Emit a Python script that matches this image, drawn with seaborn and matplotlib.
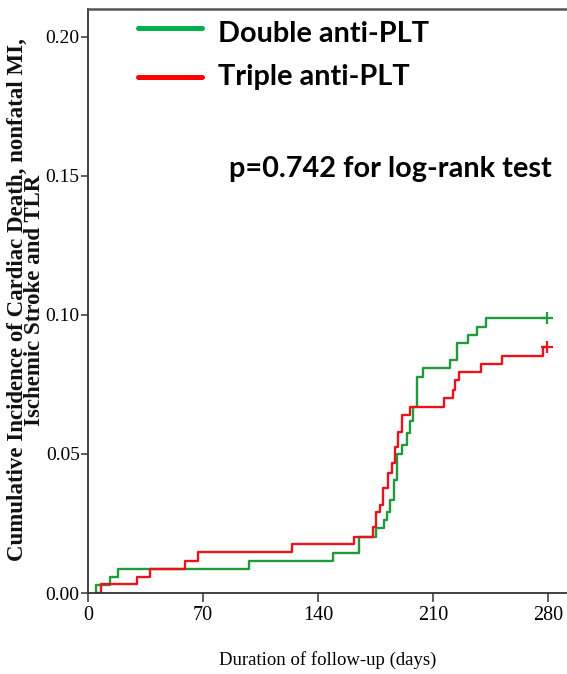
import matplotlib
matplotlib.use("Agg")
import matplotlib.pyplot as plt
from matplotlib.lines import Line2D
import numpy as np
import pandas as pd
import seaborn as sns

# Kaplan-Meier style cumulative incidence, read as (day, cumulative incidence) step points
double_days = [4.6, 4.6, 13.4, 18.0, 98.0, 149.0, 165.0, 175.0, 180.0, 182.0, 184.0,
               186.0, 188.0, 191.0, 194.0, 196.0, 198.0, 200.0, 203.7, 220.0, 224.8,
               231.5, 236.6, 242.2, 279.2]
double_vals = [0.0, 0.0030, 0.0059, 0.0086, 0.0115, 0.0143, 0.0203, 0.0233, 0.0262, 0.0290,
               0.0335, 0.0405, 0.0500, 0.0532, 0.0575, 0.0620, 0.0670, 0.0778, 0.0808,
               0.0838, 0.0898, 0.0928, 0.0958, 0.0988, 0.0988]

triple_days = [4.6, 7.9, 30.0, 37.7, 59.0, 67.1, 124.0, 162.0, 173.7, 175.3, 177.7, 179.7,
               182.8, 184.8, 186.9, 188.9, 190.9, 196.0, 216.7, 222.0, 223.4, 226.0, 239.0,
               251.8, 277.0, 279.5]
triple_vals = [0.0, 0.0031, 0.0059, 0.0086, 0.0116, 0.0146, 0.0175, 0.0203, 0.0239, 0.0293,
               0.0317, 0.0377, 0.0431, 0.0467, 0.0526, 0.0580, 0.0640, 0.0670, 0.0700,
               0.0730, 0.0766, 0.0793, 0.0823, 0.0853, 0.0883, 0.0883]

group_names = ["Double anti-PLT", "Triple anti-PLT"]
x_ticks = [0, 70, 140, 210, 280]
y_ticks = [0.00, 0.05, 0.10, 0.15, 0.20]

curve_colors = {"Double anti-PLT": "#1f9a3c", "Triple anti-PLT": "#e8141c"}
legend_colors = {"Double anti-PLT": "#00b050", "Triple anti-PLT": "#ff0000"}

df = pd.concat([
    pd.DataFrame({"day": double_days, "inc": double_vals, "group": group_names[0]}),
    pd.DataFrame({"day": triple_days, "inc": triple_vals, "group": group_names[1]}),
], ignore_index=True)

sns.set_style("white")
W, H = 567, 674
fig = plt.figure(figsize=(W / 100, H / 100), dpi=100)
ax = fig.add_axes([88 / W, 81 / H, (W - 88) / W, 584 / H])

sns.lineplot(data=df, x="day", y="inc", hue="group", palette=curve_colors,
             estimator=None, sort=False, drawstyle="steps-post", linewidth=1.7,
             legend=False, ax=ax)

# censoring marks at the end of follow-up
for name, days, vals in [(group_names[0], double_days, double_vals),
                         (group_names[1], triple_days, triple_vals)]:
    ax.plot(days[-1], vals[-1], marker="+", markersize=9, markeredgewidth=1.6,
            color=curve_colors[name], linestyle="none")

ax.set_xlim(0, 291.5)
ax.set_ylim(0, 0.21)
ax.set_xticks(x_ticks)
ax.set_xticklabels([str(t) for t in x_ticks])
ax.set_yticks(y_ticks)
ax.set_yticklabels([f"{t:.2f}" for t in y_ticks])
ax.set_xlabel("")
ax.set_ylabel("")

for side in ["left", "bottom", "top"]:
    ax.spines[side].set_color("#333333")
    ax.spines[side].set_linewidth(1.3)
ax.spines["right"].set_visible(False)
ax.spines["top"].set_color("#555555")
ax.spines["top"].set_linewidth(1.8)

ax.tick_params(axis="x", direction="out", length=6.5, width=1.1, color="#333333",
               pad=3, labelsize=14.5, labelcolor="black", bottom=True)
ax.tick_params(axis="y", direction="out", length=5, width=1.1, color="#333333",
               pad=1, labelsize=14, labelcolor="black", left=True)
for lab in ax.get_xticklabels() + ax.get_yticklabels():
    lab.set_family("Liberation Serif")

# axis titles
fig.text(328 / W, 1 - 660 / H, "Duration of follow-up (days)", family="Liberation Serif",
         fontsize=13.5, color="black", ha="center", va="center")
fig.text(26 / W, 1 - 300 / H,
         "Cumulative Incidence of Cardiac Death, nonfatal MI,\nIschemic Stroke and TLR",
         family="Liberation Serif", fontweight="bold", fontsize=16.5, color="#111111",
         rotation=90, ha="center", va="center", linespacing=0.8)

# legend drawn in figure pixel space
for name, y_line, y_text in [(group_names[0], 27.7, 41.7), (group_names[1], 76.7, 85.0)]:
    fig.add_artist(Line2D([138 / W, 202 / W], [1 - y_line / H, 1 - y_line / H],
                          color=legend_colors[name], linewidth=3.6,
                          transform=fig.transFigure))
    fig.text(218 / W, 1 - y_text / H, name, family="Lato", fontweight="bold",
             fontsize=20.8, color="black", ha="left", va="baseline")

fig.text(229 / W, 1 - 177 / H, "p=0.742 for log-rank test", family="Lato",
         fontweight="bold", fontsize=20.8, color="black", ha="left", va="baseline")

fig.savefig("out.png", dpi=100)
